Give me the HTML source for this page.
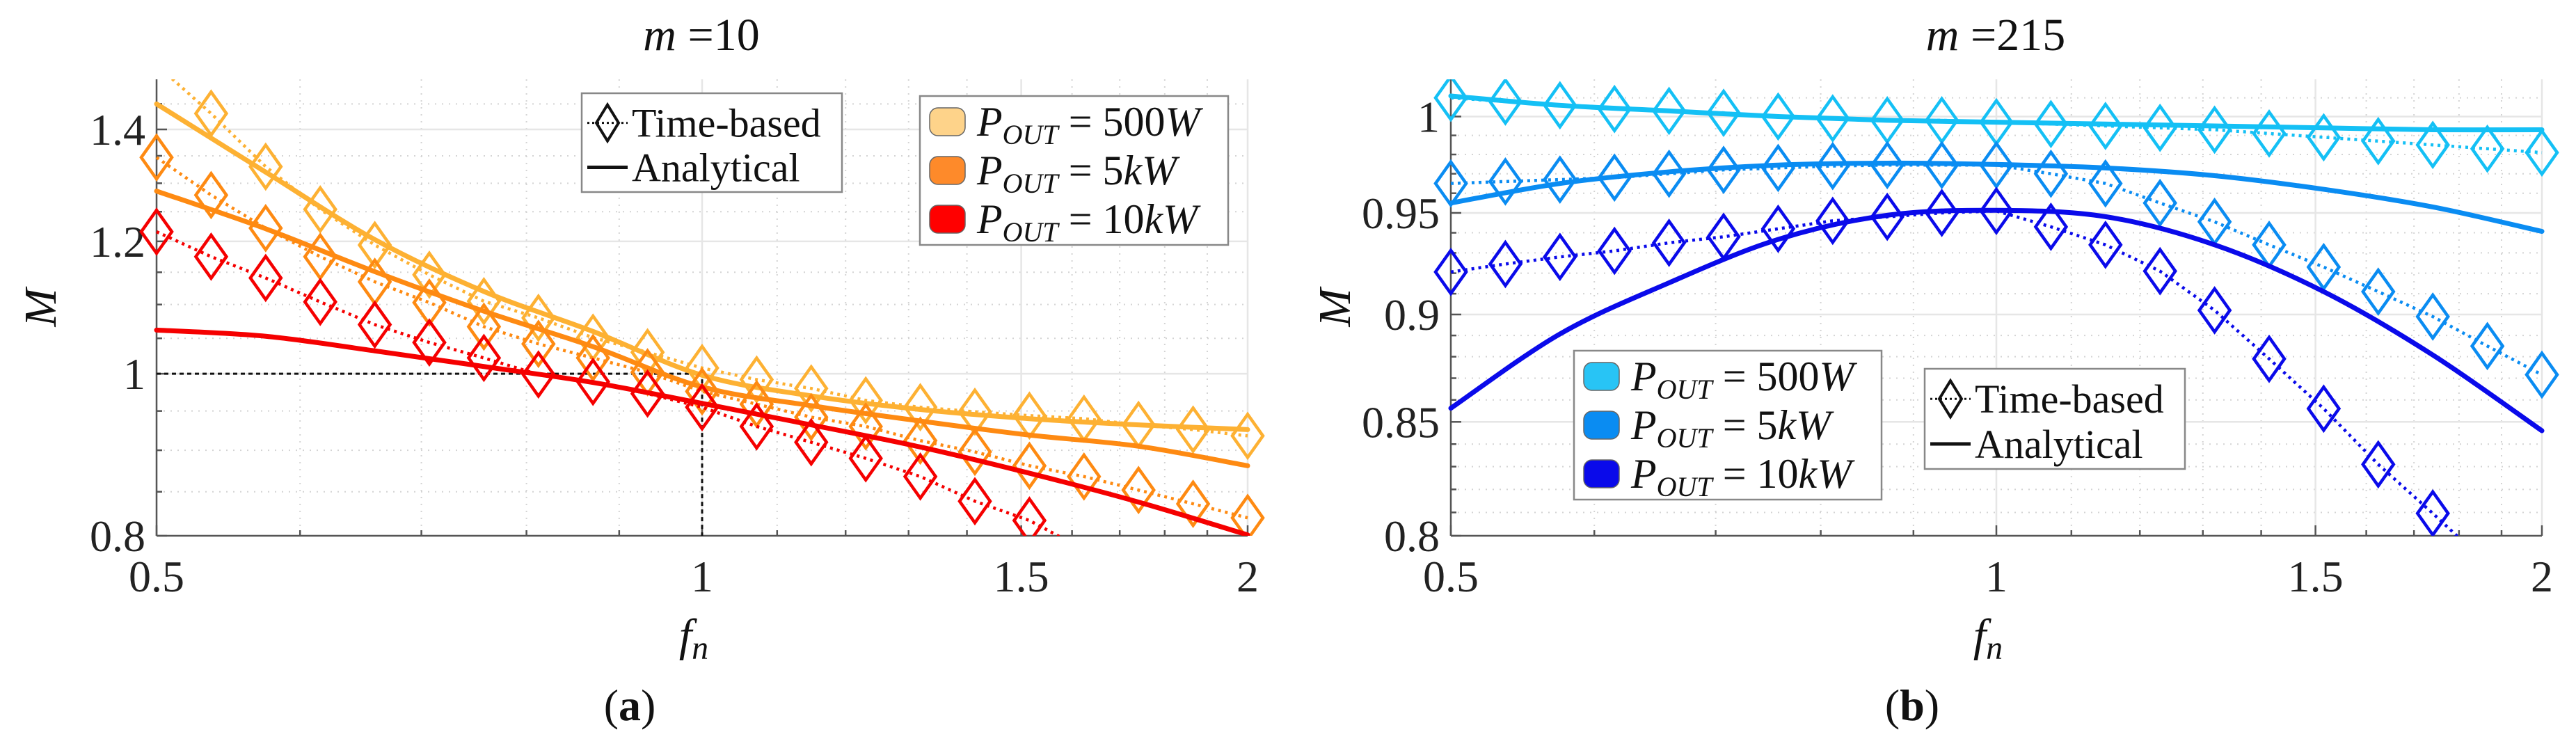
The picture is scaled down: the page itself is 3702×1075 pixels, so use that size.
<!DOCTYPE html>
<html><head><meta charset="utf-8">
<style>
html,body{margin:0;padding:0;background:#fff;}
svg, svg text{font-family:"Liberation Serif","DejaVu Serif",serif;}
</style></head>
<body>
<svg id="fig" width="3702" height="1070" viewBox="0 0 3702 1070" xmlns="http://www.w3.org/2000/svg" font-family="Liberation Serif, serif">
<g id="pa"></g>
<g id="pb"></g>
</svg>
<script>
// x positions: f = 0.5 * 2^(k/10), k = 0..20
const kIdx = [0,1,2,3,4,5,6,7,8,9,10,11,12,13,14,15,16,17,18,19,20];
const kIdxEven = [0,2,4,6,8,10,12,14,16,18,20];
// panel (a) m=10 — time-based
const a500T = [1.53,1.431,1.33,1.254,1.194,1.146,1.105,1.080,1.051,1.030,1.008,0.992,0.980,0.964,0.955,0.949,0.944,0.940,0.932,0.926,0.918];
const a5kT  = [1.347,1.279,1.222,1.175,1.135,1.103,1.067,1.042,1.022,1.002,0.976,0.959,0.942,0.930,0.912,0.898,0.881,0.868,0.852,0.836,0.820];
const a10kT = [1.216,1.175,1.141,1.104,1.070,1.044,1.022,0.999,0.989,0.973,0.955,0.930,0.910,0.890,0.868,0.839,0.817,0.785];
// panel (a) analytical
const a500A = [1.45,1.32,1.203,1.12,1.06,0.998,0.970,0.952,0.940,0.932,0.926];
const a5kA  = [1.286,1.221,1.151,1.09,1.038,0.982,0.957,0.937,0.919,0.905,0.881];
const a10kA = [1.062,1.053,1.032,1.010,0.988,0.960,0.932,0.904,0.872,0.838,0.801];
// panel (b) m=215 — time-based
const b500T = [1.010,1.008,1.006,1.004,1.003,1.002,1.000,0.999,0.998,0.998,0.997,0.996,0.995,0.994,0.993,0.991,0.989,0.987,0.985,0.983,0.981];
const b5kT  = [0.965,0.966,0.967,0.968,0.970,0.972,0.973,0.974,0.9745,0.9745,0.9745,0.970,0.965,0.955,0.9455,0.934,0.923,0.911,0.899,0.885,0.8716];
const b10kT = [0.9206,0.9245,0.928,0.931,0.935,0.938,0.942,0.946,0.948,0.950,0.951,0.943,0.934,0.921,0.902,0.879,0.856,0.831,0.8096,0.788];
// panel (b) analytical
const b500A = [1.011,1.006,1.003,1.000,0.998,0.997,0.996,0.995,0.994,0.993,0.993];
const b5kA  = [0.955,0.965,0.971,0.9745,0.9755,0.9748,0.973,0.969,0.962,0.953,0.9407];
const b10kA = [0.8562,0.8907,0.9153,0.9367,0.9488,0.9513,0.9481,0.934,0.911,0.8808,0.846];
// ticks
const xTicks = [0.5,1,1.5,2];
const xTickLabels = ["0.5","1","1.5","2"];
const xMinor = [0.6,0.7,0.8,0.9,1.1,1.2,1.3,1.4,1.6,1.7,1.8,1.9];
const aYTicks = [0.8,1,1.2,1.4];
const aYTickLabels = ["0.8","1","1.2","1.4"];
const aYMinor = [0.85,0.9,0.95,1.05,1.1,1.15,1.25,1.3,1.35,1.45];
const bYTicks = [0.8,0.85,0.9,0.95,1];
const bYTickLabels = ["0.8","0.85","0.9","0.95","1"];
const bYMinor = [0.81,0.82,0.83,0.84,0.86,0.87,0.88,0.89,0.91,0.92,0.93,0.94,0.96,0.97,0.98,0.99,1.01];

const NS="http://www.w3.org/2000/svg";
const FF="Liberation Serif, DejaVu Serif, serif";
function mk(tag,attrs,parent){const e=document.createElementNS(NS,tag);for(const k in attrs)e.setAttribute(k,attrs[k]);if(tag==='text')e.setAttribute('font-family',FF);parent.appendChild(e);return e;}
function kToF(k){return 0.5*Math.pow(2,k/10);}

function panel(g,cfg){
  const X0=cfg.x0,X1=cfg.x1,Y0=114,Y1=770;
  const sx=f=>X0+(Math.log(f/0.5)/Math.log(4))*(X1-X0);
  const sy=m=>Y1-(Math.log(m/cfg.ymin)/Math.log(cfg.ymax/cfg.ymin))*(Y1-Y0);
  const cid='clip'+cfg.id;
  const defs=mk('defs',{},g);
  const cp=mk('clipPath',{id:cid},defs);
  mk('rect',{x:X0-40,y:Y0,width:X1-X0+80,height:Y1-Y0},cp);
  const grid=mk('g',{},g);
  
  
  xMinor.forEach(v=>mk('line',{x1:sx(v),x2:sx(v),y1:Y0,y2:Y1,stroke:'#d4d4d4','stroke-width':2,'stroke-dasharray':'2 8'},grid));
  cfg.yMinor.forEach(v=>mk('line',{x1:X0,x2:X1,y1:sy(v),y2:sy(v),stroke:'#d4d4d4','stroke-width':2,'stroke-dasharray':'2 8'},grid));
  xTicks.forEach(v=>mk('line',{x1:sx(v),x2:sx(v),y1:Y0,y2:Y1,stroke:'#e6e6e6','stroke-width':2.5},grid));
  cfg.yTicks.forEach(v=>mk('line',{x1:X0,x2:X1,y1:sy(v),y2:sy(v),stroke:'#e6e6e6','stroke-width':2.5},grid));
  const ax=mk('g',{},g);
  
  
  mk('line',{x1:X0,x2:X0,y1:Y0,y2:Y1,stroke:'#555','stroke-width':2.5},ax);
  mk('line',{x1:X0,x2:X1,y1:Y1,y2:Y1,stroke:'#555','stroke-width':2.5},ax);
  xTicks.concat(xMinor).forEach(v=>mk('line',{x1:sx(v),x2:sx(v),y1:Y1,y2:Y1-(xTicks.includes(v)?15:8),stroke:'#555','stroke-width':2.5},ax));
  cfg.yTicks.concat(cfg.yMinor).forEach(v=>mk('line',{x1:X0,x2:X0+(cfg.yTicks.includes(v)?15:8),y1:sy(v),y2:sy(v),stroke:'#555','stroke-width':2.5},ax));
  xTicks.forEach((v,i)=>{const t=mk('text',{x:sx(v),y:850,'font-size':64,'text-anchor':'middle',fill:'#222'},ax);t.textContent=xTickLabels[i];
    
    });
  cfg.yTicks.forEach((v,i)=>{const t=mk('text',{x:X0-16,y:sy(v)+22,'font-size':64,'text-anchor':'end',fill:'#222'},ax);t.textContent=cfg.yTickLabels[i];
    
    });
  const tt=mk('text',{x:cfg.titleX,y:72,'font-size':66,'text-anchor':'middle',fill:'#111'},g);
  tt.innerHTML='<tspan font-style="italic">m</tspan> ='+cfg.m;
  
  
  const yl=mk('text',{x:0,y:0,'font-size':66,'font-style':'italic','text-anchor':'middle',fill:'#111',transform:`translate(${cfg.x0-145},442) rotate(-90)`},g);
  yl.textContent='M';
  
  
  const xl=mk('text',{x:(X0+X1)/2-12,y:935,'font-size':66,'font-style':'italic','text-anchor':'middle',fill:'#111'},g);
  xl.innerHTML='f<tspan font-size="48" dy="12">n</tspan>';
  
  
  const cap=mk('text',{x:cfg.capX,y:1035,'font-size':64,'text-anchor':'middle',fill:'#111'},g);
  cap.innerHTML='(<tspan font-weight="bold">'+cfg.cap+'</tspan>)';
  
  
  const dg=mk('g',{'clip-path':`url(#${cid})`},g);
  if(cfg.dashed){
    const d=mk('path',{d:`M${sx(0.5)},${sy(1)} H${sx(1)} V${Y1}`,fill:'none',stroke:'#111','stroke-width':3,'stroke-dasharray':'6 5'},dg);
    
    
  }
  function smooth(pts){
    let d=`M${pts[0][0]},${pts[0][1]}`;
    for(let i=0;i<pts.length-1;i++){
      const p0=pts[Math.max(0,i-1)],p1=pts[i],p2=pts[i+1],p3=pts[Math.min(pts.length-1,i+2)];
      const c1=[p1[0]+(p2[0]-p0[0])/6,p1[1]+(p2[1]-p0[1])/6];
      const c2=[p2[0]-(p3[0]-p1[0])/6,p2[1]-(p3[1]-p1[1])/6];
      d+=` C${c1[0]},${c1[1]} ${c2[0]},${c2[1]} ${p2[0]},${p2[1]}`;
    }
    return d;
  }
  cfg.series.forEach(s=>{
    const aPts=s.A.map((v,i)=>[sx(kToF(kIdxEven[i])),sy(v)]);
    const pa=mk('path',{d:smooth(aPts),fill:'none',stroke:s.c,'stroke-width':7,'stroke-linecap':'round'},dg);
    
    
    const tPts=s.T.map((v,i)=>[sx(kToF(kIdx[i])),sy(v),v]);
    const pt=mk('path',{d:'M'+tPts.map(p=>p[0]+','+p[1]).join(' L'),fill:'none',stroke:s.c,'stroke-width':4.5,'stroke-dasharray':'4 6'},dg);
    
    
    tPts.forEach(p=>{
      if(p[2]<cfg.ymin||p[2]>cfg.ymax) return;
      const m=mk('path',{d:`M${p[0]},${p[1]-31} L${p[0]+22},${p[1]} L${p[0]},${p[1]+31} L${p[0]-22},${p[1]} Z`,fill:'none',stroke:s.c,'stroke-width':4.5},dg);
      
      
    });
  });
  function legTime(x,y,w,h){
    const lg=mk('g',{},g);
    
    
    mk('rect',{x,y,width:w,height:h,fill:'#fff',stroke:'#888','stroke-width':2.5},lg);
    const r1=y+h*0.3,r2=y+h*0.75;
    mk('line',{x1:x+8,x2:x+66,y1:r1,y2:r1,stroke:'#111','stroke-width':3,'stroke-dasharray':'3 4'},lg);
    mk('path',{d:`M${x+37},${r1-26} L${x+53},${r1} L${x+37},${r1+26} L${x+21},${r1} Z`,fill:'none',stroke:'#111','stroke-width':4},lg);
    mk('line',{x1:x+8,x2:x+66,y1:r2,y2:r2,stroke:'#111','stroke-width':5},lg);
    const t1=mk('text',{x:x+72,y:r1+20,'font-size':58,fill:'#111'},lg);t1.textContent='Time-based';
    const t2=mk('text',{x:x+72,y:r2+20,'font-size':58,fill:'#111'},lg);t2.textContent='Analytical';
  }
  function legPow(x,y,w,h){
    const lg=mk('g',{},g);
    
    
    mk('rect',{x,y,width:w,height:h,fill:'#fff',stroke:'#888','stroke-width':2.5},lg);
    const labels=['500<tspan font-style="italic">W</tspan>','5<tspan font-style="italic">kW</tspan>','10<tspan font-style="italic">kW</tspan>'];
    cfg.series.forEach((s,i)=>{
      const cy=y+37+i*70;
      mk('rect',{x:x+14,y:cy-20,width:51,height:40,rx:12,fill:s.patch,stroke:'#666','stroke-width':1.5},lg);
      const t=mk('text',{x:x+82,y:cy+20,'font-size':60,fill:'#111'},lg);
      t.innerHTML='<tspan font-style="italic">P</tspan><tspan font-style="italic" font-size="40" dy="12">OUT</tspan><tspan dy="-12"> = '+labels[i]+'</tspan>';
    });
  }
  if(cfg.id==='a'){legTime(836,134,374,142);legPow(1322,138,443,214);}
  else{legTime(2766,530,374,144);legPow(2262,504,442,214);}
}

panel(document.getElementById('pa'),{id:'a',x0:225,x1:1793,ymin:0.8,ymax:1.5,yTicks:aYTicks,yTickLabels:aYTickLabels,yMinor:aYMinor,
  titleX:1008,m:'10',capX:905,cap:'a',dashed:true,
  series:[{n:'500w',c:'#fdb133',patch:'#fed38a',T:a500T,A:a500A},{n:'5kw',c:'#fe8a12',patch:'#fe8a2a',T:a5kT,A:a5kA},{n:'10kw',c:'#f50000',patch:'#ff0000',T:a10kT,A:a10kA}]});
panel(document.getElementById('pb'),{id:'b',x0:2085,x1:3653,ymin:0.8,ymax:1.02,yTicks:bYTicks,yTickLabels:bYTickLabels,yMinor:bYMinor,
  titleX:2868,m:'215',capX:2748,cap:'b',dashed:false,
  series:[{n:'500w',c:'#14c0f5',patch:'#28c4f5',T:b500T,A:b500A},{n:'5kw',c:'#0a8cf2',patch:'#0a8cf2',T:b5kT,A:b5kA},{n:'10kw',c:'#0a0aea',patch:'#0a0aea',T:b10kT,A:b10kA}]});
</script>
</body></html>
